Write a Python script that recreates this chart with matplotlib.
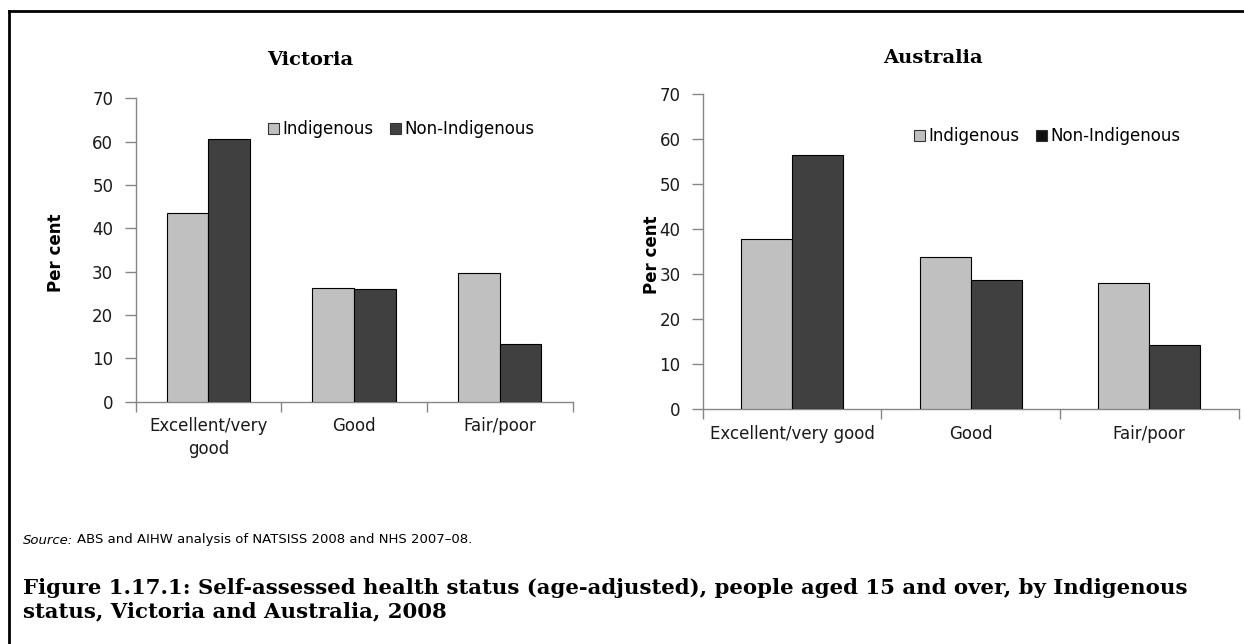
import matplotlib.pyplot as plt
from matplotlib.lines import Line2D
from matplotlib.patches import Patch

# data
categories_vic = ["Excellent/very\ngood", "Good", "Fair/poor"]
categories_aus = ["Excellent/very good", "Good", "Fair/poor"]
series = ["Indigenous", "Non-Indigenous"]
vic_indigenous = [43.5, 26.3, 29.8]
vic_non_indigenous = [60.7, 26.1, 13.3]
aus_indigenous = [37.9, 33.9, 28.1]
aus_non_indigenous = [56.4, 28.8, 14.2]
yticks = [0, 10, 20, 30, 40, 50, 60, 70]

LIGHT = "#c0c0c0"
DARK = "#404040"
AXCOL = "#868686"
TXT = "#1a1a1a"
SANS = "DejaVu Sans"
SERIF = "DejaVu Serif"
W, H = 1244, 644

plt.rcParams["font.family"] = SANS

fig = plt.figure(figsize=(W / 100, H / 100), dpi=100)


def px_rect(x0, x1, ytop, ybot):
    return [x0 / W, 1 - ybot / H, (x1 - x0) / W, (ybot - ytop) / H]


def draw_panel(rect, title, title_xy, cats, ind, non, ylab_x, leg_xy, leg_dark):
    ax = fig.add_axes(rect)
    x = range(len(cats))
    w = 0.285
    ax.bar([i - w / 2 for i in x], ind, width=w, color=LIGHT,
           edgecolor="black", linewidth=0.8, zorder=3)
    ax.bar([i + w / 2 for i in x], non, width=w, color=DARK,
           edgecolor="black", linewidth=0.8, zorder=3)
    ax.set_xlim(-0.5, len(cats) - 0.5)
    ax.set_ylim(0, 70)
    ax.set_yticks(yticks)
    ax.tick_params(axis="y", labelsize=12, colors=AXCOL, labelcolor=TXT,
                   length=8, width=1, pad=8)
    # boundary ticks as majors, category labels on minors
    ax.set_xticks([i - 0.5 for i in range(len(cats) + 1)])
    ax.set_xticklabels([])
    ax.set_xticks(list(x), minor=True)
    ax.set_xticklabels(cats, minor=True, linespacing=1.35)
    ax.tick_params(axis="x", which="major", length=7, width=1, colors=AXCOL)
    ax.tick_params(axis="x", which="minor", length=0, labelsize=12,
                   labelcolor=TXT, pad=11)
    for s in ["top", "right"]:
        ax.spines[s].set_visible(False)
    for s in ["left", "bottom"]:
        ax.spines[s].set_color(AXCOL)
        ax.spines[s].set_linewidth(1)
    ax.set_ylabel("Per cent", fontsize=12, fontweight="bold", color="black")
    ax.yaxis.set_label_coords(ylab_x, 0.49)
    fig.text(title_xy[0] / W, 1 - title_xy[1] / H, title, fontsize=14,
             fontweight="bold", family=SERIF, ha="center", va="center")
    handles = [Patch(facecolor=LIGHT, edgecolor="#333333", linewidth=0.8),
               Patch(facecolor=leg_dark, edgecolor="#333333", linewidth=0.8)]
    fig.legend(handles, series, loc="center left",
               bbox_to_anchor=(leg_xy[0] / W, 1 - leg_xy[1] / H),
               ncol=2, frameon=False, fontsize=12, handlelength=0.65,
               handleheight=0.65, handletextpad=0.2, columnspacing=1.0,
               borderpad=0, borderaxespad=0)
    return ax


draw_panel(px_rect(135.5, 572.5, 98.3, 401.7), "Victoria", (310, 60),
           categories_vic, vic_indigenous, vic_non_indigenous,
           -0.161, (268, 129), DARK)
draw_panel(px_rect(702.7, 1238.5, 94.3, 409.3), "Australia", (933, 58),
           categories_aus, aus_indigenous, aus_non_indigenous,
           -0.078, (914, 136), "#111111")

# frame lines along top and left
fig.add_artist(Line2D([9 / W, 9 / W], [0, 1 - 11 / H], color="black",
                      linewidth=2, transform=fig.transFigure))
fig.add_artist(Line2D([9 / W, 1], [1 - 11 / H, 1 - 11 / H],
                      color="black", linewidth=2, transform=fig.transFigure))

src = fig.text(23 / W, 1 - 540 / H, "Source:", fontsize=9.5, style="italic",
               va="center", ha="left")
fig.canvas.draw()
r = fig.canvas.get_renderer()
sx = src.get_window_extent(r).x1
fig.text(sx / W + 4 / W, 1 - 540 / H,
         "ABS and AIHW analysis of NATSISS 2008 and NHS 2007\u201308.",
         fontsize=9.5, va="center", ha="left")

cap1 = fig.text(23 / W, 1 - 588 / H,
                "Figure 1.17.1: Self-assessed health status (age-adjusted), "
                "people aged 15 and over, by Indigenous", fontsize=14,
                fontweight="bold", family=SERIF, va="center", ha="left")
cap2 = fig.text(23 / W, 1 - 611 / H, "status, Victoria and Australia, 2008",
                fontsize=14, fontweight="bold", family=SERIF, va="center",
                ha="left")
# fit the first caption line to its width in the reference
fig.canvas.draw()
wpx = cap1.get_window_extent(r).width
fs = 14 * (1190 - 23) / wpx
cap1.set_fontsize(fs)
cap2.set_fontsize(fs)

fig.savefig("out.png", dpi=100)
